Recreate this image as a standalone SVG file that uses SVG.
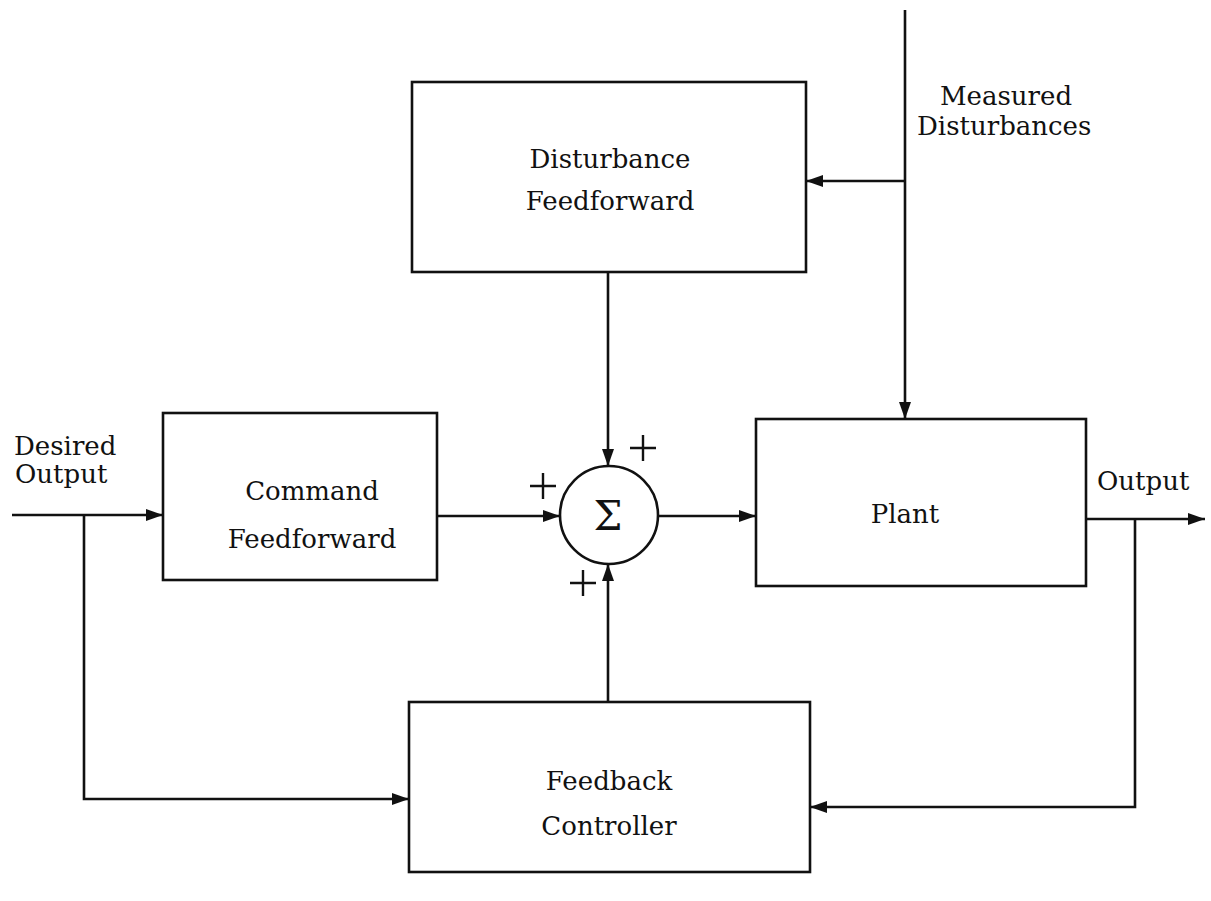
<svg xmlns="http://www.w3.org/2000/svg" width="1211" height="901" viewBox="0 0 1211 901">
<style>
.box{fill:none;stroke:#111;stroke-width:2.6}
.ln{fill:none;stroke:#111;stroke-width:2.6}
.t{font-family:"DejaVu Serif","Liberation Serif",serif;font-size:26px;fill:#111}
.c{text-anchor:middle}
.pl{stroke:#111;stroke-width:2.4}
</style>
<defs>
<marker id="ah" markerWidth="18" markerHeight="14" refX="17" refY="7" orient="auto" markerUnits="userSpaceOnUse">
<path d="M0,1 L17,7 L0,13 Z" fill="#111"/>
</marker>
</defs>
<rect width="1211" height="901" fill="#fff"/>
<g id="disturbance-ff">
<rect class="box" x="412" y="82" width="394" height="190"/>
<text class="t c" x="610" y="168">Disturbance</text>
<text class="t c" x="610" y="210">Feedforward</text>
</g>
<g id="command-ff">
<rect class="box" x="163" y="413" width="274" height="167"/>
<text class="t c" x="312" y="500">Command</text>
<text class="t c" x="312" y="548">Feedforward</text>
</g>
<g id="plant">
<rect class="box" x="756" y="419" width="330" height="167"/>
<text class="t c" x="905" y="523">Plant</text>
</g>
<g id="feedback-controller">
<rect class="box" x="409" y="702" width="401" height="170"/>
<text class="t c" x="609" y="790">Feedback</text>
<text class="t c" x="609" y="835">Controller</text>
</g>
<g id="sum">
<circle cx="609" cy="515" r="49" fill="none" stroke="#111" stroke-width="2.6"/>
<text class="t c" x="608" y="530" style="font-size:41px">Σ</text>
</g>
<g id="connectors">
<path class="ln" d="M12,515 H163" marker-end="url(#ah)"/>
<path class="ln" d="M84,515 V799 H409" marker-end="url(#ah)"/>
<path class="ln" d="M437,516 H560" marker-end="url(#ah)"/>
<path class="ln" d="M658,516 H756" marker-end="url(#ah)"/>
<path class="ln" d="M608,272 V466" marker-end="url(#ah)"/>
<path class="ln" d="M608,702 V564" marker-end="url(#ah)"/>
<path class="ln" d="M905,10 V419" marker-end="url(#ah)"/>
<path class="ln" d="M905,181 H806" marker-end="url(#ah)"/>
<path class="ln" d="M1086,519 H1205" marker-end="url(#ah)"/>
<path class="ln" d="M1135,519 V807 H810" marker-end="url(#ah)"/>
</g>
<g id="signs">
<path class="pl" d="M530,486 H556 M543,473 V499"/>
<path class="pl" d="M630,448 H656 M643,435 V461"/>
<path class="pl" d="M570,583 H596 M583,570 V596"/>
</g>
<g id="labels">
<text class="t" x="14" y="455">Desired</text>
<text class="t" x="15" y="483">Output</text>
<text class="t" x="1097" y="490">Output</text>
<text class="t" x="940" y="105">Measured</text>
<text class="t" x="917" y="135">Disturbances</text>
</g>
</svg>
